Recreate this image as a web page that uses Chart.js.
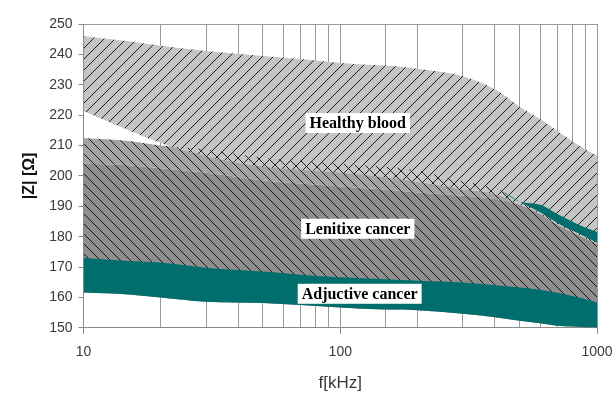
<!DOCTYPE html>
<html>
<head>
<meta charset="utf-8">
<script src="https://cdn.jsdelivr.net/npm/chart.js@4/dist/chart.umd.min.js"></script>
<style>
  html, body { margin: 0; padding: 0; background: #fff; }
  #wrap { width: 615px; height: 394px; }
</style>
</head>
<body>
<div id="wrap"><canvas id="c" width="615" height="394"></canvas></div>
<script>
// Frequencies (kHz) and |Z| (Ohm) boundaries of each tissue band
const freqs          = [10, 15, 20, 30, 50, 70, 100, 150, 200, 300, 400, 500, 600, 700, 800, 900, 1000];
const healthyTop     = [246, 244.3, 242.8, 241.1, 239.5, 238.5, 237.2, 236.3, 235.3, 232.8, 228.5, 222.8, 218.7, 214.8, 211.5, 208.8, 206.6];
const healthyBottom  = [221.4, 215, 210.8, 206.5, 203, 202, 201, 199.5, 198, 195.5, 194, 190.5, 187.5, 184, 181.5, 179.5, 177.5];
const lenitixeTop    = [212.5, 211.5, 210, 208.7, 206, 205, 204, 203, 201.8, 198.2, 196, 191.5, 188, 184.5, 182, 180, 178];
const lenitixeMid    = [204, 203.5, 202.5, 201, 198.5, 197.5, 196.5, 195.5, 194.5, 193.5, 192.5, 190.5, 187.5, 184, 181.5, 179.5, 177.5];
const lenitixeEdge   = [212.5, 211.5, 210, 208.7, 206, 205, 204, 203, 201.8, 198.2, 196, 191.5, 190.5, 187.5, 185, 183, 181.5];
const adjuctiveTop   = [173, 172, 171.5, 169.8, 168.5, 167.5, 166.6, 166, 165.5, 164.9, 164, 163.3, 162.5, 161.5, 160.5, 159.5, 158.3];
const adjuctiveBot   = [161.6, 161, 160, 158.6, 158.2, 157.5, 156.7, 156, 155.8, 154.6, 153.5, 152.3, 151.5, 150.7, 150.4, 150.2, 150.1];

const xTickLabels = [10, 100, 1000];
const yTicks = { min: 150, max: 250, step: 10 };

const bandLabels = [
  { text: 'Healthy blood',    f: 117, z: 217.4 },
  { text: 'Lenitixe cancer',  f: 117, z: 182.6 },
  { text: 'Adjuctive cancer', f: 119, z: 161.2 }
];

// diagonal hatch tiles
function hatch(bg, ink, size, rising) {
  const t = document.createElement('canvas');
  t.width = size; t.height = size;
  const g = t.getContext('2d');
  if (bg) { g.fillStyle = bg; g.fillRect(0, 0, size, size); }
  g.strokeStyle = ink; g.lineWidth = 1;
  g.beginPath();
  for (let k = -1; k <= 1; k++) {
    if (rising) { g.moveTo(k * size, size); g.lineTo(k * size + size, 0); }
    else        { g.moveTo(k * size, 0);    g.lineTo(k * size + size, size); }
  }
  g.stroke();
  return g.createPattern(t, 'repeat');
}

const TEAL = '#006e6c';
const healthyFill  = hatch('#c5c5c5', 'rgba(0,0,0,0.85)', 11, true);
const lenLightFill = hatch('#a3a3a3', 'rgba(0,0,0,0.85)', 10, false);
const lenDarkFill  = hatch('#8e8e8e', 'rgba(0,0,0,0.85)', 10, false);
const crossFill    = hatch(null,      'rgba(0,0,0,0.85)', 10, false);

const pts = arr => freqs.map((f, i) => ({ x: f, y: arr[i] }));
const edge = { borderWidth: 0, pointRadius: 0, cubicInterpolationMode: 'monotone' };

const datasets = [
  /*0*/ { data: pts(adjuctiveBot), fill: false, order: 100, ...edge },
  /*1*/ { data: pts(lenitixeMid), fill: 0, backgroundColor: lenDarkFill, order: 60, ...edge },
  /*2*/ { data: pts(lenitixeTop), fill: 1, backgroundColor: lenLightFill, order: 50, ...edge },
  /*3*/ { data: pts(healthyBottom), fill: false, order: 100, ...edge },
  /*4*/ { data: pts(healthyTop), fill: 3, backgroundColor: healthyFill, order: 40, ...edge },
  /*5*/ { data: pts(lenitixeTop), fill: { target: 3, above: crossFill, below: 'rgba(0,0,0,0)' }, order: 30, ...edge },
  /*6*/ { data: pts(lenitixeEdge), fill: 2, backgroundColor: TEAL, order: 20, ...edge },
  /*7*/ { data: pts(adjuctiveTop), fill: 0, backgroundColor: TEAL, order: 10, ...edge }
];

const isDecade = v => xTickLabels.includes(Math.round(v));

const bandLabelPlugin = {
  id: 'bandLabels',
  afterDraw(chart) {
    const { ctx, scales } = chart;
    ctx.save();
    ctx.font = 'bold 16px "Liberation Serif", "Times New Roman", serif';
    ctx.textAlign = 'center';
    ctx.textBaseline = 'middle';
    bandLabels.forEach(l => {
      const x = scales.x.getPixelForValue(l.f);
      const y = scales.y.getPixelForValue(l.z);
      const w = ctx.measureText(l.text).width;
      ctx.fillStyle = '#fff';
      ctx.fillRect(x - w / 2 - 4, y - 10, w + 8, 20);
      ctx.fillStyle = '#000';
      ctx.fillText(l.text, x, y + 1);
    });
    ctx.restore();
  }
};

new Chart(document.getElementById('c'), {
  type: 'line',
  data: { datasets },
  plugins: [bandLabelPlugin],
  options: {
    responsive: false,
    animation: false,
    events: [],
    layout: { padding: { left: 20, right: 18, top: 24, bottom: 0 } },
    plugins: { legend: { display: false }, tooltip: { enabled: false } },
    scales: {
      x: {
        type: 'logarithmic',
        min: 10, max: 1000,
        z: 1,
        afterFit: s => { s.paddingRight = 0; s.paddingLeft = 0; },
        grid: {
          color: 'rgba(70,70,70,0.55)',
          lineWidth: 1,
          tickLength: 6,
          tickColor: c => (c.tick && isDecade(c.tick.value)) ? '#8a8a8a' : 'rgba(0,0,0,0)'
        },
        border: { color: '#8a8a8a' },
        ticks: {
          autoSkip: false, maxRotation: 0, padding: 10,
          color: '#3a3a3a',
          font: { family: '"Liberation Sans", Arial, sans-serif', size: 14 },
          callback: v => isDecade(v) ? String(Math.round(v)) : ''
        },
        title: {
          display: true, text: 'f[kHz]', color: '#3a3a3a',
          font: { family: '"Liberation Sans", Arial, sans-serif', size: 17 },
          padding: { top: 3, bottom: 0 }
        }
      },
      y: {
        min: yTicks.min, max: yTicks.max,
        z: 1,
        grid: {
          color: c => (c.tick && c.tick.value === yTicks.max) ? '#9a9a9a' : 'rgba(0,0,0,0)',
          tickLength: 5,
          tickColor: '#8a8a8a'
        },
        border: { color: '#8a8a8a' },
        ticks: {
          stepSize: yTicks.step, padding: 6, color: '#3a3a3a',
          font: { family: '"Liberation Sans", Arial, sans-serif', size: 14 }
        },
        title: {
          display: true, text: '|Z| [Ω]', color: '#111',
          font: { family: '"Liberation Sans", Arial, sans-serif', size: 16, weight: 'bold' },
          padding: { top: 0, bottom: 4 }
        }
      }
    }
  }
});
</script>
</body>
</html>
